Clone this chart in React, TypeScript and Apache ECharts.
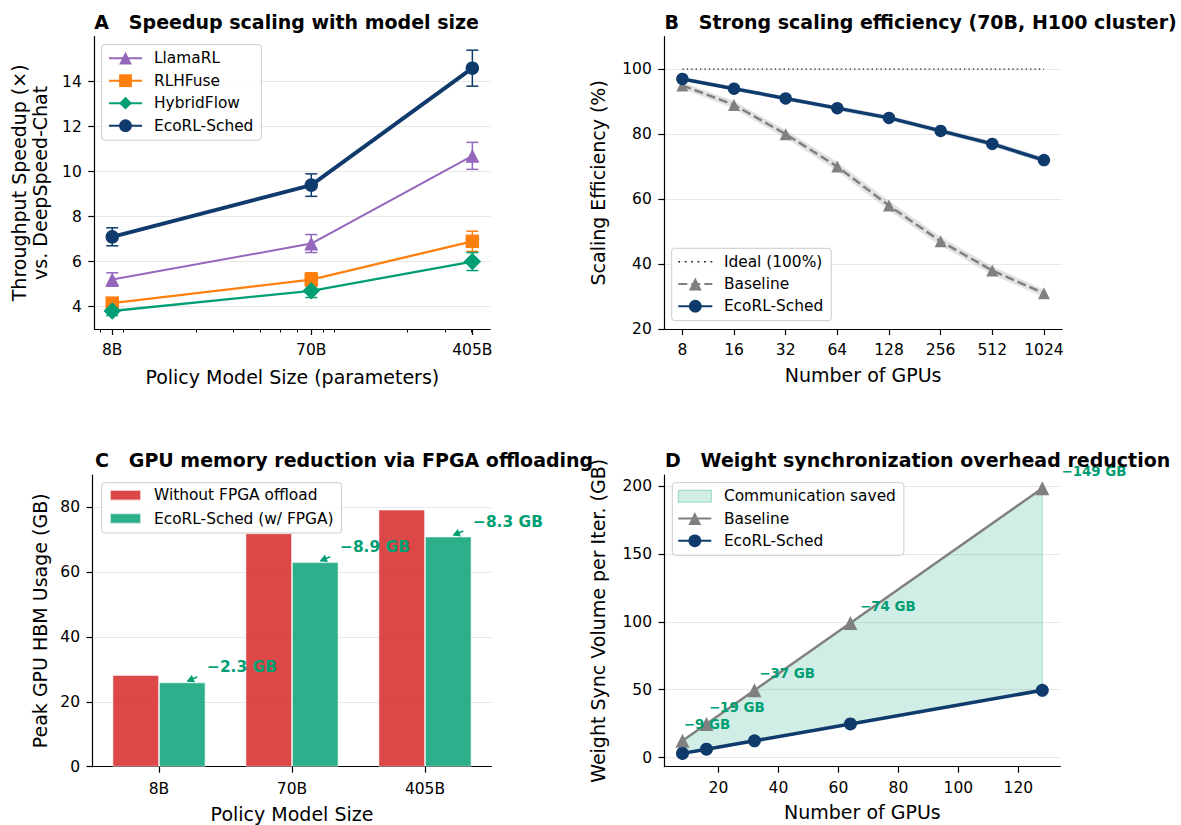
import React, { useEffect, useRef } from 'react';
import * as echarts from 'echarts';

const FONT = 'DejaVu Sans';
const NAVY = '#0f3b6c';
const PURPLE = '#9467bd';
const ORANGE = '#ff7f0e';
const GREEN = '#009e73';
const GRAY = '#808080';

// ---------- Panel A ----------
const modelSizesA = [8, 70, 405];
const modelLabelsA = ['8B', '70B', '405B'];
const llamaRL = [5.2, 6.8, 10.7];
const llamaRLErr = [0.3, 0.4, 0.6];
const rlhFuse = [4.15, 5.2, 6.9];
const rlhFuseErr = [0.2, 0.3, 0.45];
const hybridFlow = [3.8, 4.7, 6.0];
const hybridFlowErr = [0.2, 0.3, 0.4];
const ecoRLA = [7.1, 9.4, 14.6];
const ecoRLAErr = [0.4, 0.5, 0.8];
const minorSizesA = [7, 9, 20, 30, 40, 50, 60, 80, 90, 200, 300, 400];
const yTicksA = [4, 6, 8, 10, 12, 14];

// ---------- Panel B ----------
const gpuLabelsB = ['8', '16', '32', '64', '128', '256', '512', '1024'];
const idealB = 100;
const baselineB = [95, 89, 80, 70, 58, 47, 38, 31];
const baselineBandB = [1.0, 1.2, 1.3, 1.4, 1.5, 1.4, 1.3, 1.2];
const ecoRLB = [97, 94, 91, 88, 85, 81, 77, 72];
const ecoRLBandB = [0.6, 0.6, 0.6, 0.7, 0.7, 0.7, 0.8, 0.8];
const yTicksB = [20, 40, 60, 80, 100];

// ---------- Panel C ----------
const modelLabelsC = ['8B', '70B', '405B'];
const withoutFpga = [28.3, 72.0, 79.3];
const withFpga = [26.0, 63.1, 71.0];
const yTicksC = [0, 20, 40, 60, 80];

// ---------- Panel D ----------
const gpuCountsD = [8, 16, 32, 64, 128];
const baselineD = [12.4, 24.8, 49.6, 99.2, 198.4];
const ecoRLD = [3.1, 6.2, 12.4, 24.8, 49.6];
const xTicksD = [20, 40, 60, 80, 100, 120];
const yTicksD = [0, 50, 100, 150, 200];

const log10 = (v: number) => Math.log10(v);

const axisLine = { show: true, onZero: false, lineStyle: { color: '#000', width: 1.2 } };
const tick = (vals?: number[]) => ({
  show: true,
  ...(vals ? { customValues: vals } : {}),
  length: 6,
  lineStyle: { color: '#000', width: 1.2 },
});
const label = (vals: number[] | undefined, margin: number, formatter?: any) => ({
  show: true,
  ...(vals ? { customValues: vals } : {}),
  margin,
  color: '#000',
  fontSize: 15.5,
  fontFamily: FONT,
  ...(formatter ? { formatter } : {}),
});
const split = { show: true, lineStyle: { color: '#e8e8e8', width: 1 } };
const nameStyle = { color: '#000', fontSize: 19, fontFamily: FONT };
const titleStyle = { color: '#000', fontSize: 19, fontFamily: FONT, fontWeight: 'bold' };
const legendBox = {
  orient: 'vertical',
  selectedMode: false,
  backgroundColor: 'rgba(255,255,255,0.8)',
  borderColor: '#cccccc',
  borderWidth: 1,
  borderRadius: 3,
};
const legendText = { color: '#000', fontSize: 15.4, fontFamily: FONT, lineHeight: 16, padding: [0, 0, 0, 7] };
const stripName = (n: string) => n.slice(2);

function errSeries(name: string, vals: number[], errs: number[], color: string) {
  return {
    type: 'custom',
    name,
    xAxisIndex: 0,
    yAxisIndex: 0,
    coordinateSystem: 'cartesian2d',
    z: 1,
    silent: true,
    data: vals.map((v, i) => [log10(modelSizesA[i]), v - errs[i], v + errs[i]]),
    encode: { x: 0, y: [1, 2] },
    renderItem: (_p: any, api: any) => {
      const x = api.value(0);
      const lo = api.coord([x, api.value(1)]);
      const hi = api.coord([x, api.value(2)]);
      const hw = 6;
      const st = { stroke: color, lineWidth: 1.5 };
      return {
        type: 'group',
        children: [
          { type: 'line', shape: { x1: lo[0], y1: lo[1], x2: hi[0], y2: hi[1] }, style: st },
          { type: 'line', shape: { x1: lo[0] - hw, y1: lo[1], x2: lo[0] + hw, y2: lo[1] }, style: st },
          { type: 'line', shape: { x1: hi[0] - hw, y1: hi[1], x2: hi[0] + hw, y2: hi[1] }, style: st },
        ],
      };
    },
  };
}

function lineA(name: string, vals: number[], color: string, symbol: string, size: number, width: number, z: number) {
  return {
    type: 'line',
    name,
    xAxisIndex: 0,
    yAxisIndex: 0,
    data: vals.map((v, i) => [log10(modelSizesA[i]), v]),
    symbol,
    symbolSize: size,
    color,
    lineStyle: { color, width },
    itemStyle: { color },
    z,
    silent: true,
    emphasis: { disabled: true },
  };
}

function bandSeries(name: string, xIdx: number, yIdx: number, vals: number[], band: number[], fill: string) {
  return {
    type: 'custom',
    name,
    xAxisIndex: xIdx,
    yAxisIndex: yIdx,
    coordinateSystem: 'cartesian2d',
    z: 1,
    silent: true,
    data: [[0, vals[0]]],
    renderItem: (_p: any, api: any) => {
      const up = vals.map((v, i) => api.coord([i, v + band[i]]));
      const dn = vals.map((v, i) => api.coord([i, v - band[i]])).reverse();
      return { type: 'polygon', shape: { points: up.concat(dn) }, style: { fill } };
    },
  };
}

function buildOption() {
  const labelA = (v: number) => {
    const i = modelSizesA.findIndex((s) => Math.abs(log10(s) - v) < 1e-6);
    return i >= 0 ? modelLabelsA[i] : '';
  };
  const idxB = gpuLabelsB.map((_, i) => i);

  return {
    animation: false,
    backgroundColor: '#ffffff',
    textStyle: { fontFamily: FONT },
    title: [
      { text: 'A\u00a0\u00a0\u00a0Speedup scaling with model size', left: 94.3, top: 12.5, padding: 0, textStyle: titleStyle },
      { text: 'B\u00a0\u00a0\u00a0Strong scaling efficiency (70B, H100 cluster)', left: 664.5, top: 12.5, padding: 0, textStyle: titleStyle },
      { text: 'C\u00a0\u00a0\u00a0GPU memory reduction via FPGA offloading', left: 95, top: 450.5, padding: 0, textStyle: titleStyle },
      { text: 'D\u00a0\u00a0\u00a0Weight synchronization overhead reduction', left: 665, top: 450.5, padding: 0, textStyle: titleStyle },
    ],
    grid: [
      { left: 94.3, top: 36.7, width: 396, height: 292.3, containLabel: false, outerBoundsMode: 'none' },
      { left: 664.3, top: 36.7, width: 397.7, height: 292.3, containLabel: false, outerBoundsMode: 'none' },
      { left: 92.5, top: 475, width: 399, height: 291.7, containLabel: false, outerBoundsMode: 'none' },
      { left: 664.5, top: 475, width: 395.8, height: 291.7, containLabel: false, outerBoundsMode: 'none' },
    ],
    xAxis: [
      {
        gridIndex: 0, type: 'value', position: 'bottom',
        min: log10(6.58), max: log10(492.5),
        axisLine, axisTick: tick(modelSizesA.map(log10)),
        axisLabel: label(modelSizesA.map(log10), 13, labelA),
        splitLine: { show: false },
        name: 'Policy Model Size (parameters)', nameLocation: 'middle', nameGap: 38, nameTextStyle: nameStyle,
      },
      {
        gridIndex: 0, type: 'value', position: 'bottom',
        min: log10(6.58), max: log10(492.5),
        axisLine: { show: false },
        axisTick: { show: true, customValues: minorSizesA.map(log10), length: 3.5, lineStyle: { color: '#000', width: 1 } },
        axisLabel: { show: false },
        splitLine: { show: false },
      },
      {
        gridIndex: 1, type: 'value', position: 'bottom',
        min: -0.35, max: 7.35,
        axisLine, axisTick: tick(idxB),
        axisLabel: label(idxB, 13, (v: number) => gpuLabelsB[Math.round(v)] ?? ''),
        splitLine: { show: false },
        name: 'Number of GPUs', nameLocation: 'middle', nameGap: 36, nameTextStyle: nameStyle,
      },
      {
        gridIndex: 2, type: 'category', position: 'bottom',
        data: modelLabelsC, boundaryGap: true,
        axisLine, axisTick: { ...tick(), alignWithLabel: true },
        axisLabel: label(undefined, 14),
        splitLine: { show: false },
        name: 'Policy Model Size', nameLocation: 'middle', nameGap: 38, nameTextStyle: nameStyle,
      },
      {
        gridIndex: 3, type: 'value', position: 'bottom',
        min: 2, max: 134,
        axisLine, axisTick: tick(xTicksD),
        axisLabel: label(xTicksD, 13),
        splitLine: { show: false },
        name: 'Number of GPUs', nameLocation: 'middle', nameGap: 36, nameTextStyle: nameStyle,
      },
    ],
    yAxis: [
      {
        gridIndex: 0, type: 'value', min: 3.0, max: 16.0,
        axisLine, axisTick: tick(yTicksA), axisLabel: label(yTicksA, 12.5), splitLine: split,
        name: 'Throughput Speedup (\u00d7)\nvs. DeepSpeed-Chat', nameLocation: 'middle', nameGap: 44,
        nameTextStyle: { ...nameStyle, lineHeight: 21 },
      },
      {
        gridIndex: 1, type: 'value', min: 20, max: 110,
        axisLine, axisTick: tick(yTicksB), axisLabel: label(yTicksB, 12.5), splitLine: split,
        name: 'Scaling Efficiency (%)', nameLocation: 'middle', nameGap: 56.5, nameTextStyle: nameStyle,
      },
      {
        gridIndex: 2, type: 'value', min: 0, max: 90,
        axisLine, axisTick: tick(yTicksC), axisLabel: label(yTicksC, 12.5), splitLine: split,
        name: 'Peak GPU HBM Usage (GB)', nameLocation: 'middle', nameGap: 43, nameTextStyle: nameStyle,
      },
      {
        gridIndex: 3, type: 'value', min: -6.7, max: 208.2,
        axisLine, axisTick: tick(yTicksD), axisLabel: label(yTicksD, 12.5), splitLine: split,
        name: 'Weight Sync Volume per Iter. (GB)', nameLocation: 'middle', nameGap: 57, nameTextStyle: nameStyle,
      },
    ],
    legend: [
      {
        ...legendBox,
        left: 101.7, top: 44.7,
        itemWidth: 33, itemHeight: 16, itemGap: 6.5,
        padding: [5.5, 8, 6.5, 6.3],
        textStyle: legendText,
        formatter: stripName,
        data: ['A:LlamaRL', 'A:RLHFuse', 'A:HybridFlow', 'A:EcoRL-Sched'],
      },
      {
        ...legendBox,
        left: 671.7, top: 248.3,
        itemWidth: 34, itemHeight: 16, itemGap: 6.2,
        padding: [5.5, 8, 6.5, 5.6],
        textStyle: { ...legendText, padding: [0, 0, 0, 6.6] },
        formatter: stripName,
        data: [
          {
            name: 'B:Ideal (100%)',
            icon: 'path://M0,0h1.6v1.4h-1.6zM5.9,0h1.6v1.4h-1.6zM11.8,0h1.6v1.4h-1.6zM17.6,0h1.6v1.4h-1.6zM23.5,0h1.6v1.4h-1.6zM29.4,0h1.6v1.4h-1.6z',
            itemStyle: { color: '#222' },
          },
          'B:Baseline',
          'B:EcoRL-Sched',
        ],
      },
      {
        ...legendBox,
        left: 101.7, top: 482.7,
        itemWidth: 31, itemHeight: 10.5, itemGap: 7.3,
        padding: [4.5, 8, 6.5, 7.3],
        textStyle: { ...legendText, padding: [0, 0, 0, 8] },
        formatter: stripName,
        data: [
          { name: 'C:Without FPGA offload', icon: 'rect' },
          { name: 'C:EcoRL-Sched (w/ FPGA)', icon: 'rect' },
        ],
      },
      {
        ...legendBox,
        left: 672.3, top: 482.7,
        itemWidth: 33, itemHeight: 16, itemGap: 6.3,
        padding: [5.5, 8, 6.5, 5],
        textStyle: { ...legendText, padding: [0, 0, 0, 7.6] },
        formatter: stripName,
        data: [
          {
            name: 'D:Communication saved',
            icon: 'path://M0,0h33v12h-33z',
            itemStyle: { color: 'rgba(0,158,115,0.18)', borderColor: 'rgba(0,158,115,0.35)', borderWidth: 1 },
          },
          'D:Baseline',
          'D:EcoRL-Sched',
        ],
      },
    ],
    series: [
      // ----- A -----
      errSeries('A:err-llama', llamaRL, llamaRLErr, PURPLE),
      errSeries('A:err-rlhf', rlhFuse, rlhFuseErr, ORANGE),
      errSeries('A:err-hybrid', hybridFlow, hybridFlowErr, GREEN),
      errSeries('A:err-eco', ecoRLA, ecoRLAErr, NAVY),
      lineA('A:LlamaRL', llamaRL, PURPLE, 'triangle', 14, 2, 2),
      lineA('A:RLHFuse', rlhFuse, ORANGE, 'rect', 13.5, 2.3, 2),
      lineA('A:HybridFlow', hybridFlow, GREEN, 'diamond', 17.5, 2.3, 2),
      lineA('A:EcoRL-Sched', ecoRLA, NAVY, 'circle', 13.5, 4, 3),
      // ----- B -----
      bandSeries('B:band-base', 2, 1, baselineB, baselineBandB, 'rgba(128,128,128,0.22)'),
      bandSeries('B:band-eco', 2, 1, ecoRLB, ecoRLBandB, 'rgba(15,59,108,0.22)'),
      {
        type: 'line', name: 'B:Ideal (100%)', xAxisIndex: 2, yAxisIndex: 1,
        data: [[0, idealB], [gpuLabelsB.length - 1, idealB]],
        symbol: 'none', color: '#222',
        lineStyle: { color: '#222', width: 1.3, type: [1.4, 3] },
        silent: true, z: 2,
      },
      {
        type: 'line', name: 'B:Baseline', xAxisIndex: 2, yAxisIndex: 1,
        data: baselineB.map((v, i) => [i, v]),
        symbol: 'triangle', symbolSize: 12, color: GRAY,
        lineStyle: { color: GRAY, width: 2.5, type: [9, 4] },
        itemStyle: { color: GRAY },
        silent: true, z: 3,
      },
      {
        type: 'line', name: 'B:EcoRL-Sched', xAxisIndex: 2, yAxisIndex: 1,
        data: ecoRLB.map((v, i) => [i, v]),
        symbol: 'circle', symbolSize: 12.5, color: NAVY,
        lineStyle: { color: NAVY, width: 3.5 },
        itemStyle: { color: NAVY },
        silent: true, z: 4,
      },
      // ----- C -----
      {
        type: 'bar', name: 'C:Without FPGA offload', xAxisIndex: 3, yAxisIndex: 2,
        data: withoutFpga, barWidth: 46.5, barGap: '0%',
        color: 'rgba(214,39,40,0.85)',
        itemStyle: { color: 'rgba(214,39,40,0.85)', borderColor: 'rgba(255,255,255,0.7)', borderWidth: 0.8 },
        silent: true,
      },
      {
        type: 'bar', name: 'C:EcoRL-Sched (w/ FPGA)', xAxisIndex: 3, yAxisIndex: 2,
        data: withFpga, barWidth: 46.5, barGap: '0%',
        color: 'rgba(0,158,115,0.82)',
        itemStyle: { color: 'rgba(0,158,115,0.82)', borderColor: 'rgba(255,255,255,0.7)', borderWidth: 0.8 },
        silent: true,
      },
      {
        type: 'custom', name: 'C:annot', xAxisIndex: 3, yAxisIndex: 2, coordinateSystem: 'cartesian2d',
        z: 5, silent: true,
        data: withFpga.map((v, i) => [i, v, withoutFpga[i]]),
        renderItem: (_p: any, api: any) => {
          const c = api.coord([api.value(0), api.value(1)]);
          const diff = (api.value(2) - api.value(1)).toFixed(1);
          const tip = [c[0] + 23.25 + 5.5, c[1] - 1.5];
          const tail = [tip[0] + 9.5, tip[1] - 4];
          const dx = tip[0] - tail[0], dy = tip[1] - tail[1];
          const L = Math.hypot(dx, dy);
          const ux = dx / L, uy = dy / L;
          const hl = 5.5, hw = 3;
          const b1 = [tip[0] - ux * hl - uy * hw, tip[1] - uy * hl + ux * hw];
          const b2 = [tip[0] - ux * hl + uy * hw, tip[1] - uy * hl - ux * hw];
          return {
            type: 'group',
            children: [
              { type: 'line', shape: { x1: tail[0], y1: tail[1], x2: tip[0], y2: tip[1] }, style: { stroke: GREEN, lineWidth: 1.6 } },
              { type: 'polygon', shape: { points: [b1, tip, b2] }, style: { stroke: GREEN, lineWidth: 1.2, fill: GREEN } },
              {
                type: 'text', x: c[0] + 48, y: c[1] - 15,
                style: { text: '\u2212' + diff + ' GB', fill: GREEN, fontSize: 15.4, fontWeight: 'bold', fontFamily: FONT, align: 'left', verticalAlign: 'middle' },
              },
            ],
          };
        },
      },
      // ----- D -----
      {
        type: 'custom', name: 'D:Communication saved', xAxisIndex: 4, yAxisIndex: 3, coordinateSystem: 'cartesian2d',
        z: 1, silent: true,
        itemStyle: { color: 'rgba(0,158,115,0.18)' },
        data: [[gpuCountsD[0], baselineD[0]]],
        renderItem: (_p: any, api: any) => {
          const top = gpuCountsD.map((g, i) => api.coord([g, baselineD[i]]));
          const bot = gpuCountsD.map((g, i) => api.coord([g, ecoRLD[i]])).reverse();
          return {
            type: 'polygon',
            shape: { points: top.concat(bot) },
            style: { fill: 'rgba(0,158,115,0.18)', stroke: 'rgba(0,158,115,0.3)', lineWidth: 1 },
          };
        },
      },
      {
        type: 'line', name: 'D:Baseline', xAxisIndex: 4, yAxisIndex: 3,
        data: baselineD.map((v, i) => [gpuCountsD[i], v]),
        symbol: 'triangle', symbolSize: 14, color: GRAY,
        lineStyle: { color: GRAY, width: 2.5 },
        itemStyle: { color: GRAY },
        silent: true, z: 3,
      },
      {
        type: 'line', name: 'D:EcoRL-Sched', xAxisIndex: 4, yAxisIndex: 3,
        data: ecoRLD.map((v, i) => [gpuCountsD[i], v]),
        symbol: 'circle', symbolSize: 13, color: NAVY,
        lineStyle: { color: NAVY, width: 3.5 },
        itemStyle: { color: NAVY },
        silent: true, z: 4,
      },
      {
        type: 'custom', name: 'D:annot', xAxisIndex: 4, yAxisIndex: 3, coordinateSystem: 'cartesian2d',
        z: 6, silent: true,
        data: gpuCountsD.map((g, i) => [g, baselineD[i], ecoRLD[i]]),
        renderItem: (_p: any, api: any) => {
          const g = api.value(0), b = api.value(1), e = api.value(2);
          const p = api.coord([g * 1.05, b]);
          return {
            type: 'text', x: p[0], y: p[1] - 16.5,
            style: {
              text: '\u2212' + Math.round(b - e) + ' GB', fill: GREEN, fontSize: 13.4, fontWeight: 'bold',
              fontFamily: FONT, align: 'left', verticalAlign: 'middle',
            },
          };
        },
      },
    ],
  };
}

export default function App() {
  const ref = useRef<HTMLDivElement>(null);
  useEffect(() => {
    const chart = echarts.init(ref.current as HTMLDivElement, null, { renderer: 'svg' });
    chart.setOption(buildOption() as any);
    return () => chart.dispose();
  }, []);
  return (
    <div
      ref={ref}
      style={{ position: 'fixed', left: 0, top: 0, width: 1181, height: 825, background: '#fff' }}
    />
  );
}
